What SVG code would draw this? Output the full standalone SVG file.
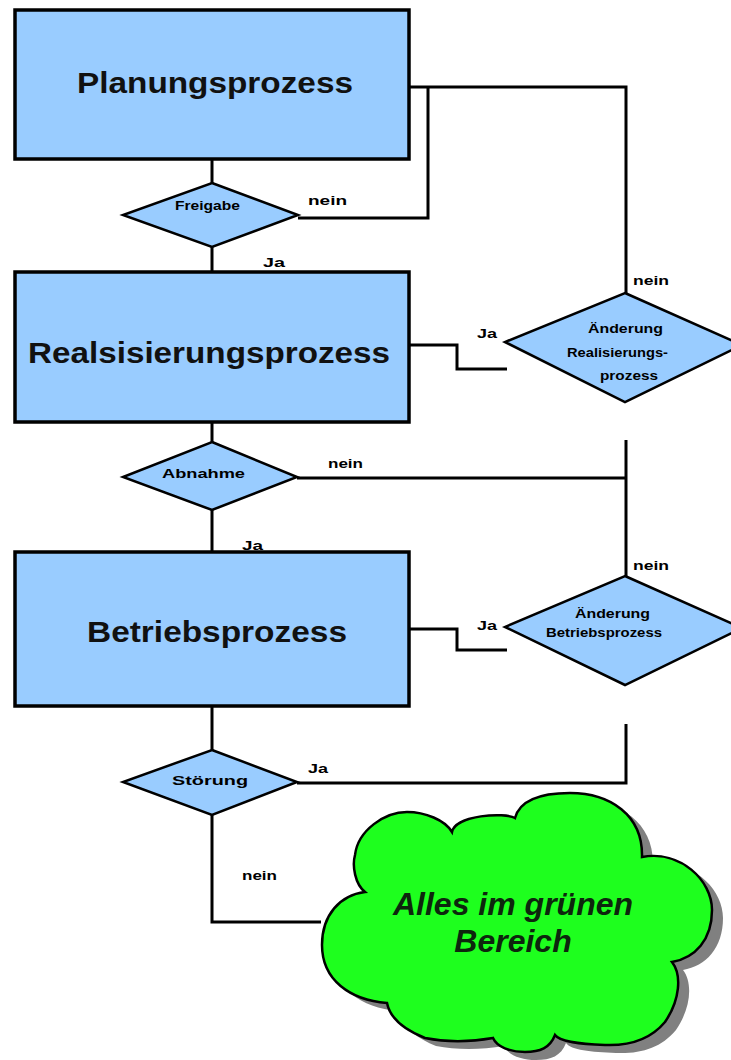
<svg xmlns="http://www.w3.org/2000/svg" width="731" height="1060" viewBox="0 0 731 1060">
<style>
.box{fill:#99CCFF;stroke:#000;stroke-width:3.5}
.dia{fill:#99CCFF;stroke:#000;stroke-width:2.5}
.big{font-family:"Liberation Sans",Arial,sans-serif;font-weight:bold;font-size:30px;fill:#111}
.sm{font-family:"Liberation Sans",Arial,sans-serif;font-weight:bold;font-size:13px;fill:#000}
.con{fill:none;stroke:#000;stroke-width:3}
.cloudtxt{font-family:"Liberation Sans",Arial,sans-serif;font-weight:bold;font-style:italic;font-size:32px;fill:#0d260d}
</style>
<rect width="731" height="1060" fill="#fff"/>
<g id="connectors">
<path class="con" d="M212 159V183"/>
<path class="con" d="M212 247V272"/>
<path class="con" d="M212 422V442"/>
<path class="con" d="M212 510V552"/>
<path class="con" d="M212 706V750"/>
<path class="con" d="M212 815V922H321"/>
<path class="con" d="M409 87H626V293"/>
<path class="con" d="M298 218H428V87"/>
<path class="con" d="M409 345H457V369H507"/>
<path class="con" d="M297 478H626"/>
<path class="con" d="M626 440V576"/>
<path class="con" d="M409 629H457V650H507"/>
<path class="con" d="M297 783H626V724"/>
<text class="sm" x="308" y="205" textLength="39" lengthAdjust="spacingAndGlyphs">nein</text>
<text class="sm" x="263" y="267" textLength="22" lengthAdjust="spacingAndGlyphs">Ja</text>
<text class="sm" x="477" y="338" textLength="20" lengthAdjust="spacingAndGlyphs">Ja</text>
<text class="sm" x="633" y="285" textLength="36" lengthAdjust="spacingAndGlyphs">nein</text>
<text class="sm" x="328" y="468" textLength="35" lengthAdjust="spacingAndGlyphs">nein</text>
<text class="sm" x="242" y="550" textLength="21" lengthAdjust="spacingAndGlyphs">Ja</text>
<text class="sm" x="477" y="630" textLength="20" lengthAdjust="spacingAndGlyphs">Ja</text>
<text class="sm" x="633" y="570" textLength="36" lengthAdjust="spacingAndGlyphs">nein</text>
<text class="sm" x="308" y="773" textLength="20" lengthAdjust="spacingAndGlyphs">Ja</text>
<text class="sm" x="242" y="880" textLength="35" lengthAdjust="spacingAndGlyphs">nein</text>
</g>
<g id="planungsprozess">
<rect class="box" x="15" y="10" width="394" height="149"/>
<text class="big" x="77" y="93" textLength="276" lengthAdjust="spacingAndGlyphs">Planungsprozess</text>
</g>
<g id="freigabe">
<polygon class="dia" points="212,183 298,215 212,247 123,215"/>
<text class="sm" x="175" y="210" textLength="65" lengthAdjust="spacingAndGlyphs">Freigabe</text>
</g>
<g id="realisierungsprozess">
<rect class="box" x="15" y="272" width="394" height="150"/>
<text class="big" x="28" y="363" textLength="362" lengthAdjust="spacingAndGlyphs">Realsisierungsprozess</text>
</g>
<g id="aenderung-realisierung">
<polygon class="dia" points="625,293 742,345 625,402 505,342"/>
<text class="sm" x="588" y="333" textLength="75" lengthAdjust="spacingAndGlyphs">Änderung</text>
<text class="sm" x="567" y="357" textLength="101" lengthAdjust="spacingAndGlyphs">Realisierungs-</text>
<text class="sm" x="600" y="380" textLength="58" lengthAdjust="spacingAndGlyphs">prozess</text>
</g>
<g id="abnahme">
<polygon class="dia" points="212,442 297,477 212,510 123,477"/>
<text class="sm" x="162" y="478" textLength="83" lengthAdjust="spacingAndGlyphs">Abnahme</text>
</g>
<g id="betriebsprozess">
<rect class="box" x="15" y="552" width="394" height="154"/>
<text class="big" x="87" y="642" textLength="260" lengthAdjust="spacingAndGlyphs">Betriebsprozess</text>
</g>
<g id="aenderung-betrieb">
<polygon class="dia" points="625,576 742,628 625,685 505,627"/>
<text class="sm" x="575" y="618" textLength="75" lengthAdjust="spacingAndGlyphs">Änderung</text>
<text class="sm" x="546" y="637" textLength="116" lengthAdjust="spacingAndGlyphs">Betriebsprozess</text>
</g>
<g id="stoerung">
<polygon class="dia" points="212,750 297,782 212,815 123,782"/>
<text class="sm" x="172" y="785" textLength="76" lengthAdjust="spacingAndGlyphs">Störung</text>
</g>
<defs>
<path id="cloudShape" d="M365 892 C355 884,352 866,355 855 C358 830,385 812,407 812 C425 812,445 820,452 832 C455 815,505 812,515 818 C520 800,540 793,570 793 C610 793,643 815,642 857 C680 850,712 880,712 910 C712 940,695 958,672 962 C682 975,680 1000,665 1022 C650 1040,630 1046,605 1045 C580 1044,560 1042,555 1035 C550 1048,540 1052,525 1052 C510 1052,497 1047,493 1038 C470 1042,445 1042,425 1038 C405 1030,390 1018,387 1003 C350 1000,322 980,322 945 C322 915,340 895,365 892 Z"/>
</defs>
<g id="cloud">
<use href="#cloudShape" transform="translate(11,8)" fill="#808080"/>
<use href="#cloudShape" fill="#1EFF1E" stroke="#000" stroke-width="2.5"/>
<text class="cloudtxt" x="513" y="915" text-anchor="middle">Alles im grünen</text>
<text class="cloudtxt" x="513" y="952" text-anchor="middle">Bereich</text>
</g>
</svg>
